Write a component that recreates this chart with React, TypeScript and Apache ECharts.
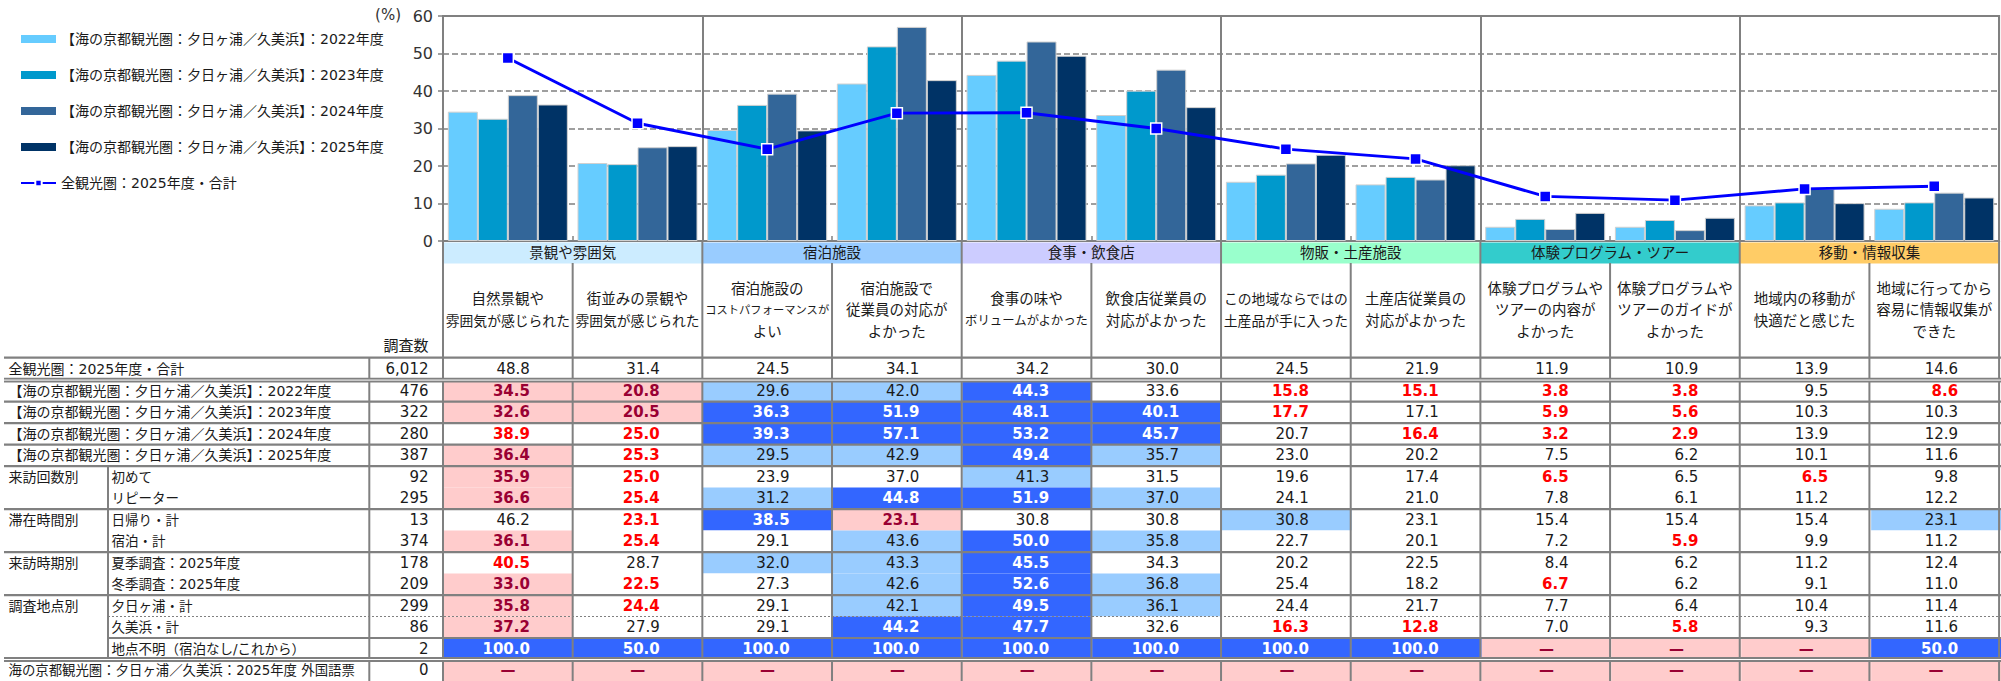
import React, { useEffect, useRef } from 'react';
import * as echarts from 'echarts';

// ---------- data ----------
const categories = [
  '自然景観や\n雰囲気が感じられた',
  '街並みの景観や\n雰囲気が感じられた',
  '宿泊施設の\nコストパフォーマンスが\nよい',
  '宿泊施設で\n従業員の対応が\nよかった',
  '食事の味や\nボリュームがよかった',
  '飲食店従業員の\n対応がよかった',
  'この地域ならではの\n土産品が手に入った',
  '土産店従業員の\n対応がよかった',
  '体験プログラムや\nツアーの内容が\nよかった',
  '体験プログラムや\nツアーのガイドが\nよかった',
  '地域内の移動が\n快適だと感じた',
  '地域に行ってから\n容易に情報収集が\nできた',
];
const groups = ['景観や雰囲気', '宿泊施設', '食事・飲食店', '物販・土産施設', '体験プログラム・ツアー', '移動・情報収集'];
const groupColors = ['#CCECFF', '#99CCFF', '#CCCCFF', '#99FFCC', '#33CCCC', '#FFCC66'];

const barNames = [
  '【海の京都観光圏：夕日ヶ浦／久美浜】：2022年度',
  '【海の京都観光圏：夕日ヶ浦／久美浜】：2023年度',
  '【海の京都観光圏：夕日ヶ浦／久美浜】：2024年度',
  '【海の京都観光圏：夕日ヶ浦／久美浜】：2025年度',
];
const barColors = ['#66CCFF', '#0099CC', '#336699', '#003366'];
const lineName = '全観光圏：2025年度・合計';

const vTotal = [48.8, 31.4, 24.5, 34.1, 34.2, 30.0, 24.5, 21.9, 11.9, 10.9, 13.9, 14.6];
const v2022 = [34.5, 20.8, 29.6, 42.0, 44.3, 33.6, 15.8, 15.1, 3.8, 3.8, 9.5, 8.6];
const v2023 = [32.6, 20.5, 36.3, 51.9, 48.1, 40.1, 17.7, 17.1, 5.9, 5.6, 10.3, 10.3];
const v2024 = [38.9, 25.0, 39.3, 57.1, 53.2, 45.7, 20.7, 16.4, 3.2, 2.9, 13.9, 12.9];
const v2025 = [36.4, 25.3, 29.5, 42.9, 49.4, 35.7, 23.0, 20.2, 7.5, 6.2, 10.1, 11.6];
const firstVisit = [35.9, 25.0, 23.9, 37.0, 41.3, 31.5, 19.6, 17.4, 6.5, 6.5, 6.5, 9.8];
const repeater = [36.6, 25.4, 31.2, 44.8, 51.9, 37.0, 24.1, 21.0, 7.8, 6.1, 11.2, 12.2];
const dayTrip = [46.2, 23.1, 38.5, 23.1, 30.8, 30.8, 30.8, 23.1, 15.4, 15.4, 15.4, 23.1];
const overnight = [36.1, 25.4, 29.1, 43.6, 50.0, 35.8, 22.7, 20.1, 7.2, 5.9, 9.9, 11.2];
const summer = [40.5, 28.7, 32.0, 43.3, 45.5, 34.3, 20.2, 22.5, 8.4, 6.2, 11.2, 12.4];
const winter = [33.0, 22.5, 27.3, 42.6, 52.6, 36.8, 25.4, 18.2, 6.7, 6.2, 9.1, 11.0];
const yuhigaura = [35.8, 24.4, 29.1, 42.1, 49.5, 36.1, 24.4, 21.7, 7.7, 6.4, 10.4, 11.4];
const kumihama = [37.2, 27.9, 29.1, 44.2, 47.7, 32.6, 16.3, 12.8, 7.0, 5.8, 9.3, 11.6];
const unknownSpot: (number | null)[] = [100.0, 50.0, 100.0, 100.0, 100.0, 100.0, 100.0, 100.0, null, null, null, 50.0];
const foreign: (number | null)[] = [null, null, null, null, null, null, null, null, null, null, null, null];

const rowLabels = [
  '全観光圏：2025年度・合計',
  '【海の京都観光圏：夕日ヶ浦／久美浜】：2022年度',
  '【海の京都観光圏：夕日ヶ浦／久美浜】：2023年度',
  '【海の京都観光圏：夕日ヶ浦／久美浜】：2024年度',
  '【海の京都観光圏：夕日ヶ浦／久美浜】：2025年度',
  '初めて', 'リピーター', '日帰り・計', '宿泊・計',
  '夏季調査：2025年度', '冬季調査：2025年度',
  '夕日ヶ浦・計', '久美浜・計', '地点不明（宿泊なし/これから）',
  '海の京都観光圏：夕日ヶ浦／久美浜：2025年度 外国語票',
];
const rowGroupLabels = ['', '', '', '', '', '来訪回数別', '', '滞在時間別', '', '来訪時期別', '', '調査地点別', '', '', ''];
const rowCounts = ['6,012', '476', '322', '280', '387', '92', '295', '13', '374', '178', '209', '299', '86', '2', '0'];
const tableRows: (number | null)[][] = [
  vTotal, v2022, v2023, v2024, v2025, firstVisit, repeater, dayTrip, overnight,
  summer, winter, yuhigaura, kumihama, unknownSpot, foreign,
];

// ---------- styles ----------
const MIX = '"DejaVu Sans", "Noto Sans CJK JP", sans-serif';
const CJK = '"Noto Sans CJK JP", sans-serif';
const GRAY = '#808080';
const TXT = '#1a1a1a';
const PINK = '#FFCCCC';
const DARKRED = '#990033';
const RED = '#FF0000';
const BLUE = '#3366FF';
const LBLUE = '#99CCFF';

type Cell = { bg: string; color: string; weight: string; text: string; align: string; dx: number };

function buildCells() {
  const data: number[][] = [];
  const styles: Cell[] = [];
  tableRows.forEach((row, r) => {
    row.forEach((v, c) => {
      const s: Cell = { bg: '#FFFFFF', color: TXT, weight: 'normal', text: '', align: 'right', dx: 22 };
      if (v === null) {
        Object.assign(s, { bg: PINK, color: DARKRED, weight: 'bold', text: '—', align: 'center', dx: 0 });
      } else {
        s.text = v.toFixed(1);
        if (r > 0) {
          const d = Math.round((v - (vTotal[c] as number)) * 10) / 10;
          if (d >= 10) Object.assign(s, { bg: BLUE, color: '#FFFFFF', weight: 'bold' });
          else if (d >= 5) s.bg = LBLUE;
          else if (d <= -10) Object.assign(s, { bg: PINK, color: DARKRED, weight: 'bold' });
          else if (d <= -5) Object.assign(s, { color: RED, weight: 'bold' });
        }
      }
      data.push([c, r, v === null ? 0 : v]);
      styles.push(s);
    });
  });
  return { data, styles };
}

// header sub-label line size: fit each line into its column like the proportional original font
const lineKey = (t: string) => 'h' + Math.round(Math.min(14.5, 124 / t.length) * 10);

export default function App() {
  const ref = useRef<HTMLDivElement>(null);

  useEffect(() => {
    if (!ref.current) return;
    const chart = echarts.init(ref.current, null, { renderer: 'svg' });
    const cells = buildCells();

    const groupRich: any = {};
    groupColors.forEach((col, i) => {
      groupRich['g' + i] = {
        backgroundColor: col, width: 259, height: 21, lineHeight: 21, align: 'center',
        fontSize: 14.5, fontFamily: MIX, color: TXT,
      };
    });
    const headRich: any = {};
    categories.forEach((c) => c.split('\n').forEach((t) => {
      const k = lineKey(t);
      headRich[k] = { fontSize: Number(k.slice(1)) / 10, lineHeight: 21.5, fontFamily: MIX, color: TXT, align: 'center' };
    }));

    const option: any = {
      animation: false,
      legend: {
        orient: 'vertical', left: 15, top: 27, itemGap: 22, itemWidth: 35, itemHeight: 8,
        selectedMode: false,
        textStyle: { fontSize: 14, fontFamily: MIX, color: TXT, lineHeight: 14 },
        data: [...barNames.map((n) => ({ name: n, icon: 'rect', itemStyle: { borderWidth: 0 } })), { name: lineName }],
      },
      grid: [
        { left: 443, right: -9, top: 16, bottom: 440, show: true, borderColor: GRAY, borderWidth: 2 },
        { left: 443, right: -9, top: 358.6, bottom: -3.1 },
      ],
      xAxis: [
        {
          type: 'category', gridIndex: 0, data: categories, position: 'bottom',
          axisLine: { show: true, lineStyle: { color: GRAY, width: 2 } },
          axisTick: { show: true, interval: 0, inside: true, length: 5, lineStyle: { color: GRAY, width: 1.5 } },
          axisLabel: {
            interval: 0, margin: 69, verticalAlign: 'middle',
            formatter: (v: string) => v.split('\n').map((t) => `{${lineKey(t)}|${t}}`).join('\n'),
            rich: headRich,
          },
          splitLine: { show: false },
        },
        {
          type: 'category', gridIndex: 0, data: groups, position: 'bottom', offset: 0,
          axisLine: { show: false }, axisTick: { show: false },
          axisLabel: {
            interval: 0, margin: 1.5, verticalAlign: 'top',
            formatter: (v: string, i: number) => `{g${i}|${v}}`, rich: groupRich,
          },
          splitLine: { show: true, interval: 0, lineStyle: { color: GRAY, width: 2 } },
        },
        { type: 'category', gridIndex: 1, data: categories, show: false },
      ],
      yAxis: [
        {
          type: 'value', gridIndex: 0, min: 0, max: 60, interval: 10,
          axisLine: { show: true, lineStyle: { color: GRAY, width: 2 } },
          axisTick: { show: true, length: 5, lineStyle: { color: GRAY, width: 1.5 } },
          axisLabel: { fontSize: 16, fontFamily: MIX, color: '#333333', margin: 10 },
          splitLine: { show: true, lineStyle: { color: GRAY, width: 1.5, type: [6, 3] } },
        },
        {
          type: 'category', gridIndex: 1, inverse: true,
          data: rowLabels.map((_, i) => String(i)),
          axisLine: { show: false }, axisTick: { show: false }, splitLine: { show: false },
          axisLabel: {
            interval: 0, margin: 14.5,
            formatter: (_v: string, i: number) => {
              const n = rowCounts[i];
              if (i >= 5 && i <= 13) {
                const g = rowGroupLabels[i] || ' ';
                return `{g|${g}}{s|${rowLabels[i]}}{n|${n}}`;
              }
              if (i === 14) return `{lp|${rowLabels[i]}}{n|${n}}`;
              return `{l|${rowLabels[i]}}{n|${n}}`;
            },
            rich: {
              l: { width: 360, align: 'left', fontSize: 14, fontFamily: MIX, color: TXT, lineHeight: 20 },
              lp: { width: 360, align: 'left', fontSize: 13.4, fontFamily: MIX, color: TXT, lineHeight: 20 },
              g: { width: 103, align: 'left', fontSize: 14, fontFamily: MIX, color: TXT, lineHeight: 20 },
              s: { width: 257, align: 'left', fontSize: 13.5, fontFamily: MIX, color: TXT, lineHeight: 20 },
              n: { width: 60, align: 'right', fontSize: 15, fontFamily: MIX, color: TXT, lineHeight: 20 },
            },
          },
        },
      ],
      series: [
        ...[v2022, v2023, v2024, v2025].map((vals, i) => ({
          type: 'bar', name: barNames[i], xAxisIndex: 0, yAxisIndex: 0, data: vals,
          barWidth: 30, barGap: '0%',
          itemStyle: { color: barColors[i], borderColor: '#D0D0D0', borderWidth: 1 },
          emphasis: { disabled: true },
        })),
        {
          type: 'line', name: lineName, xAxisIndex: 0, yAxisIndex: 0, data: vTotal, z: 5,
          symbol: 'rect', symbolSize: 11,
          lineStyle: { color: '#0000FF', width: 3 },
          itemStyle: { color: '#0000FF', borderColor: '#FFFFFF', borderWidth: 1.5 },
          emphasis: { disabled: true },
        },
        {
          type: 'custom', name: 'table', xAxisIndex: 2, yAxisIndex: 1, data: cells.data,
          silent: true, clip: false,
          renderItem: (params: any, api: any) => {
            const s = cells.styles[params.dataIndex];
            const p = api.coord([api.value(0), api.value(1)]);
            const sz = api.size([1, 1]);
            return {
              type: 'group',
              children: [
                { type: 'rect', shape: { x: p[0] - sz[0] / 2, y: p[1] - sz[1] / 2, width: sz[0], height: sz[1] },
                  style: { fill: s.bg } },
                { type: 'text', x: p[0] + s.dx, y: p[1],
                  style: { text: s.text, fill: s.color, fontSize: 15, fontWeight: s.weight, fontFamily: MIX,
                    textAlign: s.align, textVerticalAlign: 'middle' } },
              ],
            };
          },
        },
      ],
    };
    chart.setOption(option);

    // table rules & fixed texts, positioned through the axes' own scales
    const W = 2001, H = 681;
    const xc0 = chart.convertToPixel({ xAxisIndex: 0 }, 0) as number;
    const xc1 = chart.convertToPixel({ xAxisIndex: 0 }, 1) as number;
    const bw = xc1 - xc0;
    const x0 = xc0 - bw / 2;
    const yc0 = chart.convertToPixel({ yAxisIndex: 1 }, 0) as number;
    const yc1 = chart.convertToPixel({ yAxisIndex: 1 }, 1) as number;
    const rh = yc1 - yc0;
    const t0 = yc0 - rh / 2;
    const rowTop = (r: number) => t0 + r * rh;
    const axisY = chart.convertToPixel({ yAxisIndex: 0 }, 0) as number;
    const pctY = chart.convertToPixel({ yAxisIndex: 0 }, 60) as number;

    const g: any[] = [];
    const line = (x1: number, y1: number, x2: number, y2: number, w = 2, color = GRAY, dash: any = null) =>
      g.push({ type: 'line', silent: true, z: 100, shape: { x1, y1, x2, y2 },
        style: { stroke: color, lineWidth: w, lineDash: dash } });

    for (let k = 0; k <= 12; k++) {
      const x = x0 + k * bw;
      line(x, k % 2 === 0 ? axisY : axisY + 22, x, H, 2);
    }
    line(369.3, t0 - 1, 369.3, H, 2);
    line(108, rowTop(5), 108, rowTop(14) - 2.3, 2);
    line(4, t0 - 1, W, t0 - 1, 2.2);
    const dbl = (y: number) => { line(4, y, W, y, 4.8); line(4, y, W, y, 1, '#FFFFFF'); };
    dbl(rowTop(1));
    [2, 3, 4, 5, 7, 9, 11].forEach((r) => line(4, rowTop(r), W, rowTop(r), 2.2));
    line(108, rowTop(12), W, rowTop(12), 1.2, GRAY, [2, 2]);
    line(108, rowTop(13), W, rowTop(13), 2.2);
    dbl(rowTop(14));
    g.push({ type: 'text', silent: true, z: 100, x: 428.5, y: 344,
      style: { text: '調査数', fill: TXT, font: `15px ${CJK}`, textAlign: 'right', textVerticalAlign: 'middle' } });
    g.push({ type: 'text', silent: true, z: 100, x: 401, y: pctY - 1,
      style: { text: '(%)', fill: '#333333', font: `15px ${MIX}`, textAlign: 'right', textVerticalAlign: 'middle' } });

    chart.setOption({ graphic: g });

    return () => chart.dispose();
  }, []);

  return <div ref={ref} style={{ position: 'absolute', left: 0, top: 0, width: 2001, height: 681 }} />;
}
